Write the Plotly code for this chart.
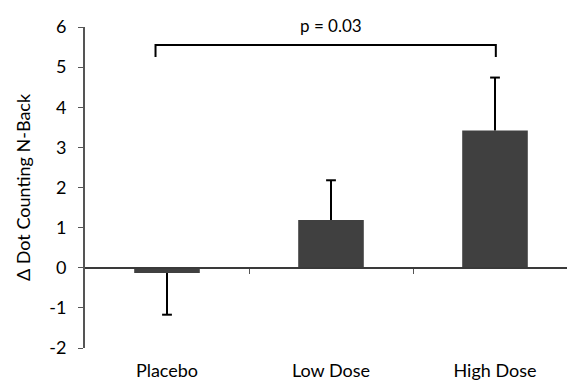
import plotly.graph_objects as go

categories = ["Placebo", "Low Dose", "High Dose"]
means = [-0.13, 1.19, 3.42]
err_up = [0.0, 0.99, 1.32]
err_down = [1.04, 0.0, 0.0]
y_ticks = [-2, -1, 0, 1, 2, 3, 4, 5, 6]
y_tick_text = ["-2", "-1", "0", "1", "2", "3", "4", "5", "6"]
bracket_y = [5.25, 5.55, 5.55, 5.25]
bracket_x = [-0.07, -0.07, 2.005, 2.005]
p_label = "p = 0.03"

xs = list(range(len(categories)))
font = "Lato, Open Sans, sans-serif"

fig = go.Figure()
fig.add_trace(go.Bar(
    x=xs, y=means, width=0.4,
    marker=dict(color="#404040", line=dict(width=0)),
    error_y=dict(type="data", symmetric=False, array=err_up, arrayminus=err_down,
                 color="black", thickness=2, width=0),
    showlegend=False, hoverinfo="skip",
))
# caps only at the outer end of each error bar
cap_y = [m + u - d for m, u, d in zip(means, err_up, err_down)]
fig.add_trace(go.Scatter(
    x=xs, y=cap_y, mode="markers",
    marker=dict(symbol="line-ew-open", size=7, color="black",
                line=dict(color="black", width=2)),
    showlegend=False, hoverinfo="skip", cliponaxis=False,
))
fig.add_trace(go.Scatter(
    x=bracket_x, y=bracket_y, mode="lines",
    line=dict(color="black", width=2), showlegend=False, hoverinfo="skip",
    cliponaxis=False,
))
fig.add_annotation(x=1, xref="x", y=1, yref="paper", yshift=2, text=p_label,
                   showarrow=False, font=dict(family=font, size=17, color="black"),
                   yanchor="middle")

fig.update_layout(
    width=575, height=383,
    margin=dict(l=77, r=6, t=19, b=43, autoexpand=False),
    paper_bgcolor="white", plot_bgcolor="white",
    font=dict(family=font, size=18, color="black"),
    xaxis=dict(range=[-0.5, 2.5], tickvals=xs, ticktext=categories,
               showline=False, showgrid=False, zeroline=False, ticks="",
               ticklabelstandoff=10, tickfont=dict(size=18), automargin=False),
    xaxis2=dict(range=[-0.5, 2.5], overlaying="x", anchor="free", position=0.25,
                side="bottom", showline=True, linecolor="#3a3a3a", linewidth=2,
                tickvals=[0.5, 1.5], ticks="outside", ticklen=5, tickwidth=1,
                tickcolor="#555555", showticklabels=False, showgrid=False,
                zeroline=False, automargin=False),
    yaxis=dict(range=[-2, 6], tickvals=y_ticks, ticktext=y_tick_text,
               showline=True, linecolor="#555555",
               linewidth=2, ticks="outside", ticklen=5, tickwidth=1,
               tickcolor="#555555", showgrid=False, zeroline=False,
               ticklabelstandoff=8,
               tickfont=dict(size=18), automargin=False,
               title=dict(text="Δ Dot Counting N-Back", font=dict(size=18), standoff=14)),
)
fig.add_trace(go.Scatter(x=[], y=[], xaxis="x2", showlegend=False))

fig.write_html("out.html")
